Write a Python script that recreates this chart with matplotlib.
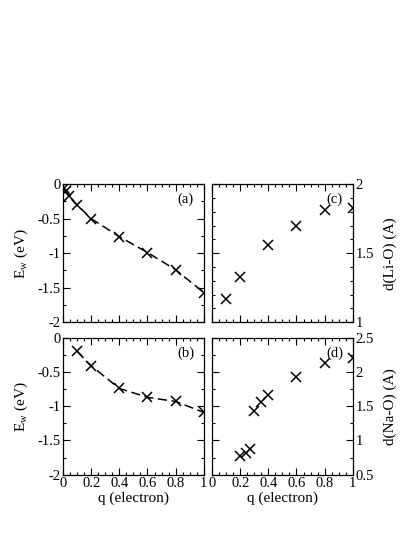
import numpy as np
import matplotlib
matplotlib.use('Agg')
import matplotlib.pyplot as plt
from matplotlib.ticker import MultipleLocator, FormatStrFormatter

plt.rcParams['font.family'] = ['Liberation Serif', 'DejaVu Serif']
plt.rcParams['mathtext.fontset'] = 'custom'
plt.rcParams['mathtext.rm'] = 'Liberation Serif'
plt.rcParams['mathtext.it'] = 'Liberation Serif'
plt.rcParams['axes.unicode_minus'] = False

# (a) Li: E_w vs q
qa = [0.005, 0.02, 0.04, 0.1, 0.2, 0.4, 0.6, 0.8, 1.0]
ea = [-0.05, -0.10, -0.17, -0.30, -0.50, -0.76, -0.99, -1.24, -1.57]
# (b) Na: E_w vs q
qb = [0.1, 0.2, 0.4, 0.6, 0.8, 1.0]
eb = [-0.20, -0.41, -0.74, -0.87, -0.93, -1.09]
# (c) d(Li-O) vs q
qc = [0.1, 0.2, 0.4, 0.6, 0.8, 1.0]
dc = [1.17, 1.33, 1.56, 1.70, 1.81, 1.83]
# (d) d(Na-O) vs q
qd = [0.2, 0.24, 0.27, 0.3, 0.35, 0.4, 0.6, 0.8, 1.0]
dd = [0.78, 0.82, 0.87, 1.43, 1.56, 1.66, 1.93, 2.13, 2.21]

fig = plt.figure(figsize=(4.15, 5.37), dpi=100)
L, R, W = 0.152, 0.511, 0.339
ax_a = fig.add_axes([L, 0.400, W, 0.257])
ax_b = fig.add_axes([L, 0.116, W, 0.255])
ax_c = fig.add_axes([R, 0.400, W, 0.257])
ax_d = fig.add_axes([R, 0.116, W, 0.255])

mk = dict(marker='x', color='black', markersize=7, markeredgewidth=1.1)

ax_a.plot(qa, ea, linestyle=(0, (6, 3)), linewidth=1.1, **mk)
ax_b.plot(qb, eb, linestyle=(0, (6, 3)), linewidth=1.1, **mk)
ax_c.plot(qc, dc, linestyle='none', **mk)
ax_d.plot(qd, dd, linestyle='none', **mk)

for ax in (ax_a, ax_b, ax_c, ax_d):
    ax.set_xlim(0, 1)
    ax.xaxis.set_major_locator(MultipleLocator(0.2))
    ax.xaxis.set_minor_locator(MultipleLocator(0.05))
    ax.xaxis.set_major_formatter(FormatStrFormatter('%g'))
    ax.yaxis.set_major_formatter(FormatStrFormatter('%g'))
    ax.tick_params(which='both', direction='in', top=True, right=True,
                   labelsize=10.5, width=0.8, pad=2)
    ax.tick_params(which='major', length=5)
    ax.tick_params(which='minor', length=2.5)
    for s in ax.spines.values():
        s.set_linewidth(0.9)

for ax in (ax_a, ax_b):
    ax.set_ylim(-2, 0)
    ax.yaxis.set_major_locator(MultipleLocator(0.5))
    ax.yaxis.set_minor_locator(MultipleLocator(0.25))
    ax.set_ylabel(r'E$_w$ (eV)', fontsize=11, labelpad=5)

ax_c.set_ylim(1, 2)
ax_c.yaxis.set_major_locator(MultipleLocator(0.5))
ax_c.yaxis.set_minor_locator(MultipleLocator(0.1))
ax_d.set_ylim(0.5, 2.5)
ax_d.yaxis.set_major_locator(MultipleLocator(0.5))
ax_d.yaxis.set_minor_locator(MultipleLocator(0.25))

for ax, lab in ((ax_c, 'd(Li-O) (A)'), (ax_d, 'd(Na-O) (A)')):
    ax.yaxis.tick_right()
    ax.yaxis.set_label_position('right')
    ax.tick_params(which='both', left=True, labelleft=False, labelright=True)
    ax.set_ylabel(lab, fontsize=11, labelpad=7)

for ax in (ax_a, ax_c):
    ax.tick_params(labelbottom=False)
for ax in (ax_b, ax_d):
    ax.set_xlabel('q (electron)', fontsize=11, labelpad=1)

for ax, lab in ((ax_a, '(a)'), (ax_b, '(b)'), (ax_c, '(c)'), (ax_d, '(d)')):
    ax.text(0.87, 0.89, lab, transform=ax.transAxes, fontsize=10.5,
            ha='center', va='center')

fig.savefig('out.png', dpi=100)
